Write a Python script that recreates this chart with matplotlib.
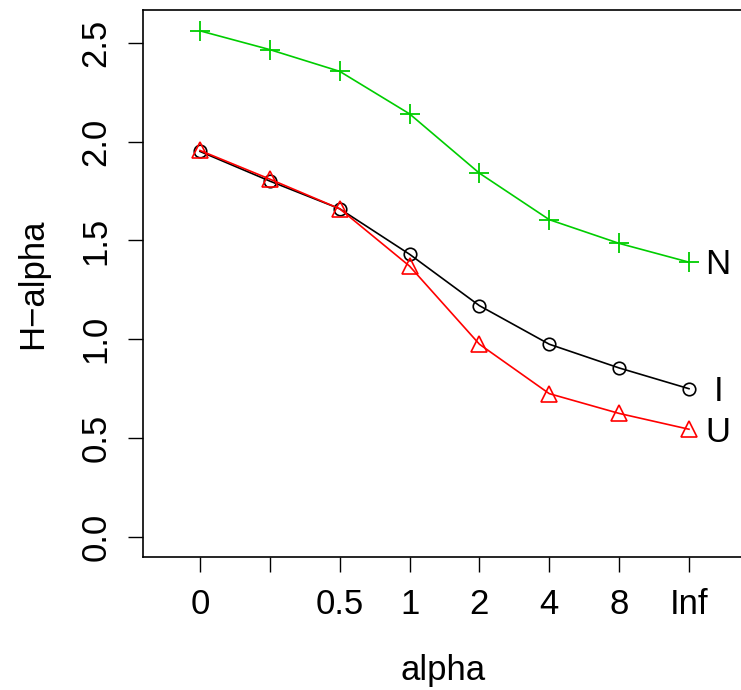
import matplotlib.pyplot as plt

plt.rcParams['font.family'] = ['Liberation Sans', 'DejaVu Sans']

alpha_labels = ['0', '', '0.5', '1', '2', '4', '8', 'Inf']
h_N = [2.56, 2.465, 2.355, 2.14, 1.84, 1.605, 1.485, 1.39]
h_I = [1.95, 1.80, 1.66, 1.43, 1.17, 0.975, 0.855, 0.75]
h_U = [1.955, 1.81, 1.66, 1.37, 0.975, 0.725, 0.625, 0.545]

x = list(range(len(alpha_labels)))

fig = plt.figure(figsize=(7.41, 6.90), dpi=100)
ax = fig.add_axes([143 / 741, 1 - 557 / 690, 600 / 741, 547 / 690])

ax.plot(x, h_N, color='#00CD00', lw=1.2, marker='+', ms=14, mew=1.3)
ax.plot(x, h_I, color='black', lw=1.2, marker='o', ms=9, mfc='none', mew=1.2)
ax.plot(x, h_U, color='#FF0000', lw=1.2, marker='^', ms=11, mfc='none', mew=1.2)

for yv, name in [(h_N[-1], 'N'), (h_I[-1], 'I'), (h_U[-1], 'U')]:
    ax.annotate(name, (x[-1], yv), xytext=(21, -2), textcoords='offset points',
                ha='center', va='center', fontsize=25)

# pixel mapping: x 0 -> 200px, 7 -> 689px ; y 0 -> 537px, 2.5 -> 42.7px
xs = (689 - 200) / 7
ax.set_xlim((143 - 200) / xs, (743 - 200) / xs)
ys = (537 - 42.7) / 2.5
ax.set_ylim(-(557 - 537) / ys, (537 - 10) / ys)

ax.set_xticks(x)
ax.set_xticklabels(alpha_labels)
ax.set_yticks([0, 0.5, 1.0, 1.5, 2.0, 2.5])
ax.set_yticklabels(['0.0', '0.5', '1.0', '1.5', '2.0', '2.5'], rotation=90, va='center')
ax.tick_params(length=11, width=1, labelsize=25, pad=11)

for s in ax.spines.values():
    s.set_linewidth(1.2)

ax.set_xlabel('alpha', fontsize=25, labelpad=24)
ax.set_ylabel('H\u2212alpha', fontsize=25, labelpad=22)

fig.savefig('out.png', dpi=100)
